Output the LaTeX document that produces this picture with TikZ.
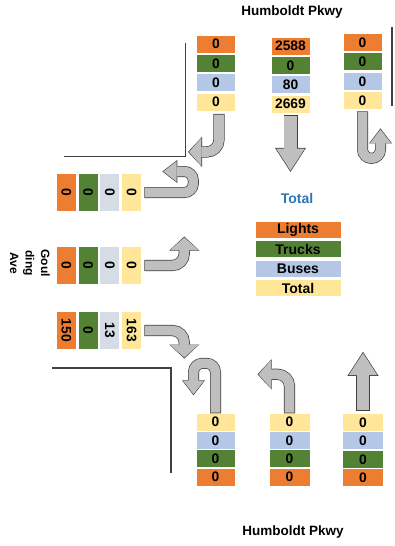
\documentclass[tikz,border=0pt]{standalone}
\usepackage{fontspec}
\setmainfont{Liberation Sans}
\usepackage{xcolor}
\usepackage{graphicx}
\usepackage{tikz}
\usetikzlibrary{arrows.meta, positioning}
\definecolor{lightsc}{HTML}{ED7D31}
\definecolor{trucksc}{HTML}{548235}
\definecolor{busesc}{HTML}{B4C7E7}
\definecolor{busesgc}{HTML}{D6DCE5}
\definecolor{totalc}{HTML}{FFE699}
\definecolor{arrowc}{HTML}{BFBFBF}
\definecolor{titlec}{HTML}{2E75B6}
\newcommand{\vtext}[1]{\rotatebox{-90}{#1}}

\begin{document}
\begin{tikzpicture}[x=1pt, y=-1pt,
    cnt/.style={minimum width=38pt, minimum height=17pt, inner sep=0pt, font=\fontsize{13.8}{15}\selectfont\bfseries},
    lights/.style={cnt, fill=lightsc},
    trucks/.style={cnt, fill=trucksc},
    buses/.style={cnt, fill=busesc},
    busesg/.style={cnt, fill=busesgc},
    total/.style={cnt, fill=totalc},
    side/.style={minimum width=19pt, minimum height=37pt},
    legend/.style={minimum width=85pt, minimum height=16pt, font=\fontsize{14}{16}\selectfont\bfseries},
    street/.style={font=\fontsize{13.5}{15}\selectfont\bfseries},
    curb/.style={draw=black!75, line width=1.3pt},
    turnarrow/.style={draw=arrowc, line width=9.8pt, rounded corners=12pt, shorten <=0.7pt, shorten >=1pt,
        -{Triangle[width=27.6pt, length=12.3pt, line width=0pt]},
        preaction={draw=black!75, line width=11.2pt, shorten <=0pt, shorten >=0pt, -{Triangle[width=30pt, length=14pt, line width=0pt]}}},
    uarrow/.style={draw=arrowc, line width=9.6pt, rounded corners=9pt, shorten <=0.7pt, shorten >=1.1pt,
        -{Triangle[width=20.6pt, length=13.3pt, line width=0pt]},
        preaction={draw=black!75, line width=11pt, shorten <=0pt, shorten >=0pt, -{Triangle[width=23pt, length=15pt, line width=0pt]}}},
    thruarrow/.style={draw=arrowc, line width=12.6pt, shorten <=0.7pt, shorten >=1.3pt,
        -{Triangle[width=28.4pt, length=21.9pt, line width=0pt]},
        preaction={draw=black!75, line width=14pt, shorten <=0pt, shorten >=0pt, -{Triangle[width=31pt, length=24pt, line width=0pt]}}},
]
\useasboundingbox (0,0) rectangle (395,546);
\node[street] (north) at (292,12) {Humboldt Pkwy};
\node[street] (south) at (293,532) {Humboldt Pkwy};
\node[street, font=\fontsize{12}{15.5}\selectfont\bfseries, rotate=-90, align=center] (west) at (30,263) {Goul\\ding\\Ave};
\draw[curb] (64,156.5) -- (185.5,156.5) -- (185.5,43);
\draw[curb] (52,368) -- (171,368) -- (171,473);
\draw[curb] (392,27) -- (392,106);
\node[lights] (nr1) at (216,44) {0};
\node[trucks, below=2pt of nr1] (nr2) {0};
\node[buses, below=2pt of nr2] (nr3) {0};
\node[total, below=2pt of nr3] (nr4) {0};
\node[lights] (nt1) at (290.5,46) {2588};
\node[trucks, below=2pt of nt1] (nt2) {0};
\node[buses, below=2pt of nt2] (nt3) {80};
\node[total, below=2pt of nt3] (nt4) {2669};
\node[lights] (nu1) at (362.5,42.5) {0};
\node[trucks, below=2pt of nu1] (nu2) {0};
\node[buses, below=2pt of nu2] (nu3) {0};
\node[total, below=2pt of nu3] (nu4) {0};
\draw[turnarrow] ([xshift=3pt, yshift=-3pt]nr4.south) -- ++(0,38) -- ++(-31,0);
\draw[thruarrow] ([yshift=-2pt]nt4.south) -- ++(0,57);
\draw[uarrow] ([yshift=-2pt]nu4.south) -- ++(0,47) -- ++(18,0) -- ++(0,-30);
\node[lights, side] (wu1) at (66.5,192.5) {\vtext{0}};
\node[trucks, side, right=2.3pt of wu1] (wu2) {\vtext{0}};
\node[busesg, side, right=2.3pt of wu2] (wu3) {\vtext{0}};
\node[total, side, right=2.3pt of wu3] (wu4) {\vtext{0}};
\node[lights, side] (wl1) at (66.5,265.5) {\vtext{0}};
\node[trucks, side, right=2.3pt of wl1] (wl2) {\vtext{0}};
\node[busesg, side, right=2.3pt of wl2] (wl3) {\vtext{0}};
\node[total, side, right=2.3pt of wl3] (wl4) {\vtext{0}};
\node[lights, side] (wr1) at (66.5,330.5) {\vtext{150}};
\node[trucks, side, right=2.3pt of wr1] (wr2) {\vtext{0}};
\node[busesg, side, right=2.3pt of wr2] (wr3) {\vtext{13}};
\node[total, side, right=2.3pt of wr3] (wr4) {\vtext{163}};
\draw[uarrow] ([xshift=3pt]wu4.east) -- ++(49,0) -- ++(0,-21) -- ++(-31,0);
\draw[turnarrow] ([xshift=3pt]wl4.east) -- ++(40,0) -- ++(0,-29);
\draw[turnarrow] ([xshift=3pt]wr4.east) -- ++(40,0) -- ++(0,28);
\node[street, text=titlec, font=\fontsize{14}{16}\selectfont\bfseries] (title) at (297,198) {Total};
\node[lights, legend] (leg1) at (298,230) {Lights};
\node[trucks, legend, below=3pt of leg1] (leg2) {Trucks};
\node[buses, legend, below=3pt of leg2] (leg3) {Buses};
\node[total, legend, below=3pt of leg3] (leg4) {Total};
\node[total] (su1) at (215.5,422) {0};
\node[buses, below=1pt of su1] (su2) {0};
\node[trucks, below=1pt of su2] (su3) {0};
\node[lights, below=1pt of su3] (su4) {0};
\node[total, minimum width=40pt] (sl1) at (289.5,422) {0};
\node[buses, minimum width=40pt, below=1pt of sl1] (sl2) {0};
\node[trucks, minimum width=40pt, below=1pt of sl2] (sl3) {0};
\node[lights, minimum width=40pt, below=1pt of sl3] (sl4) {0};
\node[total, minimum width=40pt] (st1) at (363,422.5) {0};
\node[buses, minimum width=40pt, below=1pt of st1] (st2) {0};
\node[trucks, minimum width=40pt, below=1pt of st2] (st3) {0};
\node[lights, minimum width=40pt, below=1pt of st3] (st4) {0};
\draw[uarrow] (su1.north) -- ++(0,-50) -- ++(-22,0) -- ++(0,32);
\draw[turnarrow] (sl1.north) -- ++(0,-39) -- ++(-32,0);
\draw[thruarrow] ([yshift=3pt]st1.north) -- ++(0,-59);
\end{tikzpicture}
\end{document}
